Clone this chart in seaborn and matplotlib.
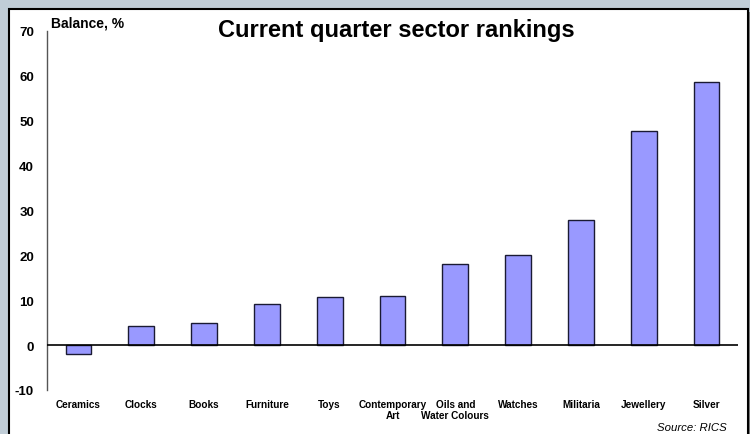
import matplotlib
matplotlib.use("Agg")
import matplotlib.pyplot as plt
import seaborn as sns
import pandas as pd
from matplotlib.patches import Rectangle

categories = ["Ceramics", "Clocks", "Books", "Furniture", "Toys",
              "Contemporary\nArt", "Oils and\nWater Colours", "Watches",
              "Militaria", "Jewellery", "Silver"]
values = [-2.0, 4.2, 4.9, 9.1, 10.7, 10.9, 18.0, 20.0, 27.8, 47.7, 58.6]
yticks = [-10, 0, 10, 20, 30, 40, 50, 60, 70]

sns.set_theme(style="white")
plt.rcParams['font.family'] = ['Liberation Sans', 'DejaVu Sans']
plt.rcParams['text.color'] = 'black'
plt.rcParams['xtick.color'] = 'black'
plt.rcParams['ytick.color'] = 'black'

fig = plt.figure(figsize=(7.5, 4.35), dpi=100)
fig.patch.set_facecolor("#C0CDD7")

# shadow + white panel
fig.patches.append(Rectangle((12/750, -0.05), 739/750, 1 - 13/435 + 0.05,
                             transform=fig.transFigure, facecolor="#7f7f7f",
                             edgecolor="none", zorder=0))
fig.patches.append(Rectangle((9/750, -0.05), 739/750, 1 - 10/435 + 0.05,
                             transform=fig.transFigure, facecolor="white",
                             edgecolor="black", linewidth=1.5, zorder=1))

ax = fig.add_axes([47/750, 1 - 391/435, (738 - 47)/750, (391 - 32)/435])
ax.set_zorder(5)
ax.set_facecolor("none")

df = pd.DataFrame({"cat": categories, "val": values})
sns.barplot(data=df, x="cat", y="val", color="#9999FF", saturation=1,
            width=0.41, edgecolor="#1a1a33", linewidth=1.0, ax=ax, zorder=3)

ax.set_xlim(-0.5, len(categories) - 0.5)
ax.set_ylim(-10, 70)
ax.set_yticks(yticks)
ax.set_yticklabels([str(t) for t in yticks], fontsize=9.5, fontweight="bold")
ax.tick_params(axis="y", length=0, pad=9.3)
ax.tick_params(axis="x", length=0, pad=0)
ax.set_xticks(range(len(categories)))
ax.set_xticklabels([])
for i, c in enumerate(categories):
    ax.text(i, -11.95, c, ha="center", va="top", clip_on=False,
            fontsize=7.2, fontweight="bold", linespacing=1.2)

ax.set_xlabel("")
ax.set_ylabel("")
for s in ["top", "right", "bottom"]:
    ax.spines[s].set_visible(False)
ax.spines["left"].set_color("#555555")
ax.spines["left"].set_linewidth(1.0)
ax.axhline(0, color="black", linewidth=1.2, zorder=4)

fig.text(51/750, 1 - 28/435, "Balance, %", fontsize=10, fontweight="bold",
         ha="left", va="baseline", zorder=6)
fig.text(396/750, 1 - 37/435, "Current quarter sector rankings", fontsize=17,
         fontweight="bold", ha="center", va="baseline", zorder=6)
fig.text(727/750, 1 - 428/435, "Source: RICS", fontsize=8.2, fontstyle="italic",
         ha="right", va="center", zorder=6)

fig.savefig("out.png", dpi=100, facecolor=fig.get_facecolor())
